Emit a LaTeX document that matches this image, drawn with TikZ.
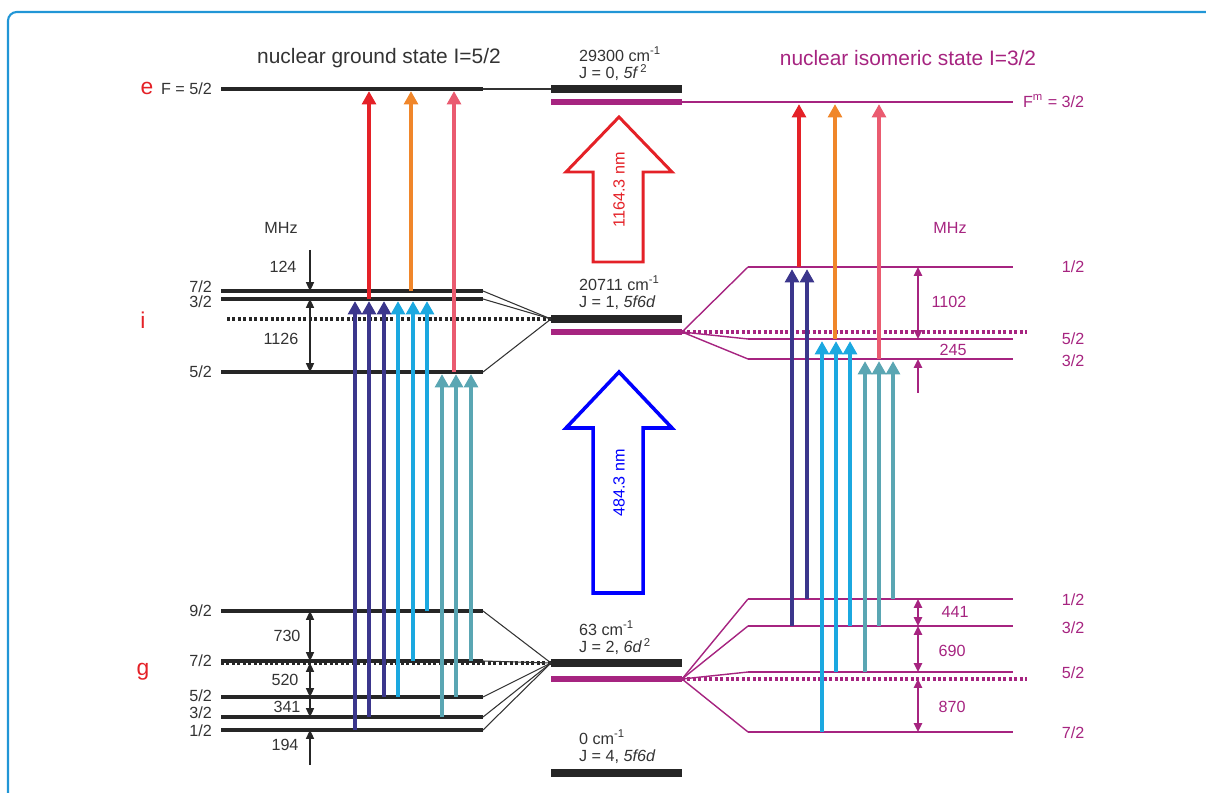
\documentclass[tikz,border=0pt]{standalone}
\usepackage{fontspec}
\setmainfont{Liberation Sans}
\usepackage{tikz}
\usetikzlibrary{arrows.meta}
\usepackage{xcolor}
\definecolor{isomag}{HTML}{A62480}
\definecolor{labgray}{HTML}{333333}
\definecolor{lvred}{HTML}{E42127}
\definecolor{lvorange}{HTML}{F0862A}
\definecolor{lvpink}{HTML}{EA5B70}
\definecolor{lvnavy}{HTML}{3B368C}
\definecolor{lvcyan}{HTML}{1BA8E0}
\definecolor{lvteal}{HTML}{5AA6B3}
\definecolor{framecol}{HTML}{2196D6}

\begin{document}
\begin{tikzpicture}[x=0.02cm, y=-0.02cm, >={Triangle[length=5pt,width=4.6pt]},
  every node/.style={font=\fontsize{9.2}{10}\selectfont, text=labgray, inner sep=1pt},
  gline/.style={line width=1.9pt, black!85},
  mline/.style={line width=1.6pt, isomag},
  gbar/.style={line width=4pt, black!85},
  mbar/.style={line width=3.8pt, isomag},
  glink/.style={line width=0.6pt, black!80},
  mlink/.style={line width=0.8pt, isomag},
  gdots/.style={line width=1.9pt, black!85, dash pattern=on 1.7pt off 1.4pt},
  mdots/.style={line width=1.9pt, isomag, dash pattern=on 1.7pt off 1.4pt},
  trans/.style={line width=2pt, -{Triangle[length=7.5pt,width=7.8pt]}, shorten >=1.2pt},
  gsep/.style={line width=0.7pt, black!85},
  msep/.style={line width=1pt, isomag},
  elab/.style={anchor=west, align=left, font=\fontsize{9.2}{9.8}\selectfont},
  biglab/.style={font=\fontsize{13}{14}\selectfont, text=lvred},
  title/.style={font=\fontsize{11.9}{13}\selectfont}]

\useasboundingbox (0,0) rectangle (1206,793);

% Frame
\draw[framecol, line width=1.2pt, rounded corners=5pt] (8,793) -- (8,12) -- (1206,12);

% Level positions, ground state side
\coordinate (gsE)  at (221,89);
\coordinate (gsI7) at (221,291);
\coordinate (gsI3) at (221,299);
\coordinate (gsIc) at (227,319);
\coordinate (gsI5) at (221,372);
\coordinate (gsG9) at (221,611);
\coordinate (gsG7) at (221,661);
\coordinate (gsGc) at (221,663);
\coordinate (gsG5) at (221,697);
\coordinate (gsG3) at (221,717);
\coordinate (gsG1) at (221,730);

% Level positions, electronic (middle)
\coordinate (cE)  at (551,89);
\coordinate (cEm) at (551,102);
\coordinate (cI)  at (551,319);
\coordinate (cIm) at (551,332);
\coordinate (cG)  at (551,663);
\coordinate (cGm) at (551,679);
\coordinate (cO)  at (551,773);

% Level positions, isomer side
\coordinate (isE)  at (748,102);
\coordinate (isI1) at (748,267);
\coordinate (isI5) at (748,339);
\coordinate (isI3) at (748,359);
\coordinate (isG1) at (748,599);
\coordinate (isG3) at (748,626);
\coordinate (isG5) at (748,672);
\coordinate (isGc) at (748,679);
\coordinate (isG7) at (748,732);

% Titles
\node[title] at (379,58) (gsTitle) {nuclear ground state I=5/2};
\node[title, text=isomag] at (908,58) (isTitle) {nuclear isomeric state I=3/2};

% Ground state hyperfine levels
\foreach \lv in {gsE,gsI7,gsI3,gsI5,gsG9,gsG7,gsG5,gsG3,gsG1}
  \draw[gline] (\lv) -- ++(262,0);
\draw[gdots] (gsIc) -- (cI);
\draw[gdots] (gsGc) -- (cG);

% Electronic levels
\foreach \lv in {cE,cI,cG,cO}
  \draw[gbar] (\lv) -- ++(131,0);
\foreach \lv in {cEm,cIm,cGm}
  \draw[mbar] (\lv) -- ++(131,0);

% Isomer hyperfine levels
\foreach \lv in {isE,isI1,isI5,isI3,isG1,isG3,isG5,isG7}
  \draw[mline] (\lv) -- ++(265,0);
\draw[mdots] (cIm) ++(131,0) -- (1027,332);
\draw[mdots] (cGm) ++(131,0) -- (1027,679);

% Links to the electronic levels
\draw[glink] (gsE) ++(262,0) -- (cE);
\foreach \lv in {gsI7,gsI3,gsI5}
  \draw[glink] (\lv) ++(262,0) -- (cI);
\foreach \lv in {gsG9,gsG7,gsG5,gsG3,gsG1}
  \draw[glink] (\lv) ++(262,0) -- (cG);
\draw[mlink] (cEm) ++(131,0) -- (isE);
\foreach \lv in {isI1,isI5,isI3}
  \draw[mlink] (cIm) ++(131,0) -- (\lv);
\foreach \lv in {isG1,isG3,isG5,isG7}
  \draw[mlink] (cGm) ++(131,0) -- (\lv);

% Labels of the electronic levels
\node[elab] at (577,64) (eEn) {29300 cm\textsuperscript{-1}\\J = 0, \textit{5f}\textsuperscript{\,2}};
\node[elab] at (577,293) (iEn) {20711 cm\textsuperscript{-1}\\J = 1, \textit{5f6d}};
\node[elab] at (577,638) (gEn) {63 cm\textsuperscript{-1}\\J = 2, \textit{6d}\textsuperscript{\,2}};
\node[elab] at (577,747) (oEn) {0 cm\textsuperscript{-1}\\J = 4, \textit{5f6d}};

% Labels, ground state side
\node[biglab] at (147,88) (eLab) {e};
\node[biglab] at (143,320) (iLab) {i};
\node[biglab] at (143,672) (gLab) {g};
\node[anchor=east] at (214,89) (fE) {F = 5/2};
\node[anchor=east] at (214,287) (fI7) {7/2};
\node[anchor=east] at (214,302) (fI3) {3/2};
\node[anchor=east] at (214,372) (fI5) {5/2};
\node[anchor=east] at (214,611) (fG9) {9/2};
\node[anchor=east] at (214,661) (fG7) {7/2};
\node[anchor=east] at (214,696) (fG5) {5/2};
\node[anchor=east] at (214,713) (fG3) {3/2};
\node[anchor=east] at (214,731) (fG1) {1/2};

% Labels, isomer side
\node[anchor=west, text=isomag] at (1021,101) (fmE) {F\textsuperscript{m} = 3/2};
\node[text=isomag] at (1073,267) (fmI1) {1/2};
\node[text=isomag] at (1073,339) (fmI5) {5/2};
\node[text=isomag] at (1073,361) (fmI3) {3/2};
\node[text=isomag] at (1073,600) (fmG1) {1/2};
\node[text=isomag] at (1073,628) (fmG3) {3/2};
\node[text=isomag] at (1073,673) (fmG5) {5/2};
\node[text=isomag] at (1073,733) (fmG7) {7/2};

% Splittings, ground state side
\coordinate (sepA) at (310,250);
\coordinate (sepB) at (310,765);
\node at (281,228) (mhzL) {MHz};
\draw[gsep,->] (sepA) -- (310,0 |- gsI7);
\draw[gsep,<->] (310,0 |- gsI3) -- (310,0 |- gsI5);
\draw[gsep,<->] (310,0 |- gsG9) -- (310,0 |- gsG7);
\draw[gsep,<->] (310,0 |- gsGc) -- (310,0 |- gsG5);
\draw[gsep,->] (310,0 |- gsG5) -- (310,0 |- gsG3);
\draw[gsep,->] (sepB) -- (310,0 |- gsG1);
\node at (283,267) (s124) {124};
\node at (281,339) (s1126) {1126};
\node at (287,636) (s730) {730};
\node at (285,680) (s520) {520};
\node at (287,707) (s341) {341};
\node at (285,745) (s194) {194};

% Splittings, isomer side
\coordinate (sepC) at (918,393);
\node[text=isomag] at (950,228) (mhzR) {MHz};
\draw[msep,<->] (918,0 |- isI1) -- (918,0 |- isI5);
\draw[msep,->] (sepC) -- (918,0 |- isI3);
\draw[msep,<->] (918,0 |- isG1) -- (918,0 |- isG3);
\draw[msep,<->] (918,0 |- isG3) -- (918,0 |- isG5);
\draw[msep,<->] (918,0 |- isGc) -- (918,0 |- isG7);
\node[text=isomag] at (949,302) (s1102) {1102};
\node[text=isomag] at (953,350) (s245) {245};
\node[text=isomag] at (955,612) (s441) {441};
\node[text=isomag] at (952,651) (s690) {690};
\node[text=isomag] at (952,707) (s870) {870};

% Laser arrows
\draw[lvred, line width=1.7pt] (593,262) -- (593,172) -- (566,172) -- (619,117)
  -- (672,172) -- (643,172) -- (643,262) -- cycle;
\node[rotate=90, text=lvred] at (619,190) (irLab) {1164.3 nm};
\draw[blue, line width=2pt] (593,593) -- (593,428) -- (566,428) -- (619,372)
  -- (672,428) -- (643,428) -- (643,593) -- cycle;
\node[rotate=90, text=blue] at (619,483) (blLab) {484.3 nm};

% Transitions i -> e
\foreach \xx/\lo/\hi/\col in {369/gsI3/gsE/lvred, 411/gsI7/gsE/lvorange, 454/gsI5/gsE/lvpink,
    799/isI1/isE/lvred, 835/isI5/isE/lvorange, 879/isI3/isE/lvpink} {
  \draw[trans, \col] (\xx,0 |- \lo) -- (\xx,0 |- \hi);
}
% Transitions g -> i, ground state side
\foreach \xx/\lo/\hi/\col in {355/gsG1/gsI3/lvnavy, 369/gsG3/gsI3/lvnavy, 384/gsG5/gsI3/lvnavy,
    398/gsG5/gsI3/lvcyan, 413/gsG7/gsI3/lvcyan, 427/gsG9/gsI3/lvcyan,
    442/gsG3/gsI5/lvteal, 456/gsG5/gsI5/lvteal, 471/gsG7/gsI5/lvteal} {
  \draw[trans, \col] (\xx,0 |- \lo) -- (\xx,0 |- \hi);
}
% Transitions g -> i, isomer side
\foreach \xx/\lo/\hi/\col in {792/isG3/isI1/lvnavy, 807/isG1/isI1/lvnavy,
    822/isG7/isI5/lvcyan, 836/isG5/isI5/lvcyan, 850/isG3/isI5/lvcyan,
    865/isG5/isI3/lvteal, 879/isG3/isI3/lvteal, 893/isG1/isI3/lvteal} {
  \draw[trans, \col] (\xx,0 |- \lo) -- (\xx,0 |- \hi);
}

\end{tikzpicture}
\end{document}
